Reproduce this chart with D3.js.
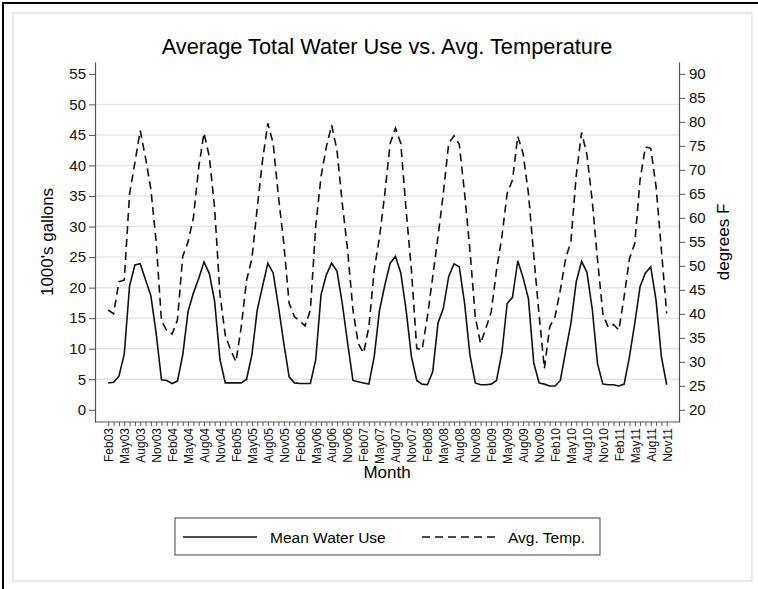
<!DOCTYPE html>
<html>
<head>
<meta charset="utf-8">
<script src="https://cdnjs.cloudflare.com/ajax/libs/d3/7.8.5/d3.min.js"></script>
<style>
body { margin: 0; background: #fff; }
svg { font-family: "Liberation Sans", Arial, sans-serif; }
</style>
</head>
<body>
<script>
// monthly values, Feb03 .. Nov11
var water = [
  4.4, 4.5, 5.5, 9.1, 20.3, 23.7, 23.9, 21.3, 18.7, 12.5, 4.9,
  4.8, 4.3, 4.7, 9.0, 16.1, 19.1, 21.5, 24.2, 22.3, 17.7, 8.2, 4.4,
  4.4, 4.4, 4.4, 5.0, 9.0, 16.3, 20.2, 24.0, 22.4, 16.9, 10.9, 5.4,
  4.4, 4.3, 4.3, 4.3, 8.2, 18.8, 22.1, 24.0, 22.7, 17.4, 10.9, 4.8,
  4.6, 4.4, 4.2, 8.7, 16.3, 20.4, 24.0, 25.1, 22.4, 16.3, 8.7, 4.8,
  4.2, 4.1, 6.2, 14.2, 16.6, 21.8, 23.9, 23.4, 17.4, 9.0, 4.4, 4.1,
  4.1, 4.2, 4.8, 9.3, 17.4, 18.4, 24.4, 21.6, 18.2, 7.7, 4.4, 4.2,
  3.9, 3.9, 4.8, 9.6, 14.2, 21.0, 24.3, 22.5, 16.5, 7.5, 4.2, 4.1,
  4.1, 3.9, 4.2, 8.7, 14.2, 20.2, 22.4, 23.4, 17.9, 8.7, 4.1
];
var temp = [
  40.8, 40.0, 46.7, 47.0, 65.0, 71.5, 78.2, 72.5, 66.0, 55.0, 38.5,
  36.5, 35.8, 38.7, 52.0, 55.0, 60.0, 70.5, 77.7, 72.7, 62.0, 44.0, 35.5,
  32.5, 30.0, 37.3, 47.0, 51.5, 62.0, 72.0, 79.7, 75.5, 64.4, 54.7, 42.2,
  39.4, 38.5, 37.5, 40.8, 58.2, 68.6, 74.8, 79.3, 74.1, 63.0, 53.3, 40.8,
  33.8, 31.8, 37.3, 49.1, 56.0, 65.1, 75.5, 78.7, 75.5, 61.6, 49.1, 32.8,
  32.5, 39.4, 47.7, 56.1, 65.1, 75.5, 77.1, 75.3, 65.1, 53.3, 39.4, 33.8,
  37.0, 40.4, 49.1, 56.0, 65.1, 67.9, 77.0, 73.4, 65.1, 52.2, 39.8, 28.6,
  37.3, 39.4, 45.0, 51.5, 55.2, 69.0, 77.8, 73.2, 63.5, 51.2, 40.0, 37.2,
  37.8, 36.6, 43.6, 51.5, 54.7, 68.0, 74.8, 74.5, 66.5, 53.3, 40.1
];
var tickLabels = [
  "Feb03","May03","Aug03","Nov03","Feb04","May04","Aug04","Nov04",
  "Feb05","May05","Aug05","Nov05","Feb06","May06","Aug06","Nov06",
  "Feb07","May07","Aug07","Nov07","Feb08","May08","Aug08","Nov08",
  "Feb09","May09","Aug09","Nov09","Feb10","May10","Aug10","Nov10",
  "Feb11","May11","Aug11","Nov11"
];
var leftTicks = [0, 5, 10, 15, 20, 25, 30, 35, 40, 45, 50, 55];
var rightTicks = [20, 25, 30, 35, 40, 45, 50, 55, 60, 65, 70, 75, 80, 85, 90];
var gridTicks = [5, 10, 15, 20, 25, 30, 35, 40, 45, 50];
var seriesNames = ["Mean Water Use", "Avg. Temp."];

var W = 758, H = 589;
var margin = {top: 62, right: 79, bottom: 167, left: 95},
    w = W - margin.left - margin.right,
    h = H - margin.top - margin.bottom;

var svg = d3.select("body").append("svg")
    .attr("width", W)
    .attr("height", H);

// frame
svg.append("rect").attr("x", 13).attr("y", 13).attr("width", 739).attr("height", 568)
    .attr("fill", "none").attr("stroke", "#e2e2e2").attr("stroke-width", 1.5);
svg.append("line").attr("x1", 3).attr("x2", 3).attr("y1", 2).attr("y2", H)
    .attr("stroke", "#000").attr("stroke-width", 2);
svg.append("line").attr("x1", 2).attr("x2", W).attr("y1", 3).attr("y2", 3)
    .attr("stroke", "#000").attr("stroke-width", 2);

var g = svg.append("g")
    .attr("transform", "translate(" + margin.left + "," + margin.top + ")");

var xScale = d3.scaleLinear()
    .domain([0, water.length - 1])
    .range([13.3, 571.7]);
var yLeft = d3.scaleLinear().domain([-2, 56.94]).range([h, 0]);
var yRight = d3.scaleLinear().domain([17.46, 92.48]).range([h, 0]);

// grid
g.selectAll(".grid")
    .data(gridTicks)
  .enter().append("line")
    .attr("class", "grid")
    .attr("x1", 0).attr("x2", w)
    .attr("y1", function(d) { return yLeft(d); })
    .attr("y2", function(d) { return yLeft(d); })
    .attr("stroke", "#e6e6e6")
    .attr("stroke-width", 1.5);

var yAxisL = d3.axisLeft(yLeft).tickValues(leftTicks).tickSize(6).tickSizeOuter(0).tickPadding(3);
var yAxisR = d3.axisRight(yRight).tickValues(rightTicks).tickSize(6).tickSizeOuter(0).tickPadding(4);
var xAxis = d3.axisBottom(xScale)
    .tickValues(d3.range(0, water.length))
    .tickSize(4)
    .tickSizeOuter(0)
    .tickFormat(function(i) { return i % 3 === 0 ? tickLabels[i / 3] : ""; });

var gl = g.append("g").attr("class", "axis").call(yAxisL);
var gr = g.append("g").attr("class", "axis").attr("transform", "translate(" + w + ",0)").call(yAxisR);
var gx = g.append("g").attr("class", "axis").attr("transform", "translate(0," + h + ")").call(xAxis);
gx.select(".domain").remove();
gx.append("line").attr("x1", 0).attr("x2", w).attr("stroke", "#555").attr("stroke-width", 1.2);

[gl, gr].forEach(function(a) {
  a.selectAll("text").style("font-size", "15px").attr("fill", "#111");
});
g.selectAll(".axis .domain").attr("stroke", "#555").attr("stroke-width", 1.2);
g.selectAll(".axis line").attr("stroke", "#555");
gx.selectAll("text")
    .style("font-size", "12px")
    .attr("fill", "#111")
    .attr("transform", "rotate(-90)")
    .attr("text-anchor", "end")
    .attr("x", -6)
    .attr("y", 0)
    .attr("dy", ".36em");

// series
var lineW = d3.line()
    .x(function(d, i) { return xScale(i); })
    .y(function(d) { return yLeft(d); });
var lineT = d3.line()
    .x(function(d, i) { return xScale(i); })
    .y(function(d) { return yRight(d); });

g.append("path").datum(water)
    .attr("d", lineW)
    .attr("fill", "none").attr("stroke", "#111").attr("stroke-width", 1.6);
g.append("path").datum(temp)
    .attr("d", lineT)
    .attr("fill", "none").attr("stroke", "#111").attr("stroke-width", 1.6)
    .attr("stroke-dasharray", "8,5");

// titles
svg.append("text")
    .attr("x", 387).attr("y", 54)
    .attr("text-anchor", "middle")
    .style("font-size", "21.8px")
    .text("Average Total Water Use vs. Avg. Temperature");
svg.append("text")
    .attr("x", 387).attr("y", 478)
    .attr("text-anchor", "middle")
    .style("font-size", "17px")
    .text("Month");
svg.append("text")
    .attr("transform", "translate(53," + (margin.top + h / 2) + ") rotate(-90)")
    .attr("text-anchor", "middle")
    .style("font-size", "17px")
    .text("1000's gallons");
svg.append("text")
    .attr("transform", "translate(729," + (margin.top + h / 2) + ") rotate(-90)")
    .attr("text-anchor", "middle")
    .style("font-size", "17px")
    .text("degrees F");

// legend
var lg = svg.append("g").attr("transform", "translate(175,518)");
lg.append("rect").attr("width", 425).attr("height", 37)
    .attr("fill", "#fff").attr("stroke", "#444").attr("stroke-width", 1);
lg.append("line").attr("x1", 8).attr("x2", 82).attr("y1", 19).attr("y2", 19)
    .attr("stroke", "#111").attr("stroke-width", 1.6);
lg.append("text").attr("x", 95).attr("y", 24.5).style("font-size", "15.5px").text(seriesNames[0]);
lg.append("line").attr("x1", 247).attr("x2", 322).attr("y1", 19).attr("y2", 19)
    .attr("stroke", "#111").attr("stroke-width", 1.6).attr("stroke-dasharray", "8,5");
lg.append("text").attr("x", 333).attr("y", 24.5).style("font-size", "15.5px").text(seriesNames[1]);
</script>
</body>
</html>
